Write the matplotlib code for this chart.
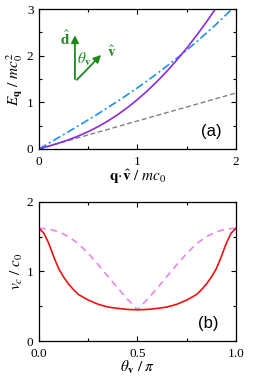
import matplotlib
matplotlib.use("Agg")
from matplotlib import pyplot as plt
from matplotlib.ticker import MultipleLocator, FormatStrFormatter

# panel (a): dispersion and velocity lines
q_disp = [0.0, 0.1, 0.2, 0.3, 0.4, 0.5, 0.6, 0.7, 0.8, 0.9, 1.0,
          1.1, 1.2, 1.3, 1.4, 1.5, 1.6, 1.7, 1.8]
E_disp = [0.0, 0.061, 0.125, 0.196, 0.278, 0.371, 0.478, 0.600, 0.737, 0.890, 1.060,
          1.247, 1.450, 1.670, 1.908, 2.163, 2.435, 2.724, 3.031]
q_blue = [0.0, 0.2, 0.4, 0.6, 0.8, 1.0, 1.2, 1.4, 1.6, 1.8, 2.0]
E_blue = [0.0, 0.246, 0.496, 0.754, 1.025, 1.311, 1.617, 1.945, 2.297, 2.676, 3.083]
q_gray = [0.0, 2.0]
E_gray = [0.0, 1.2]

# panel (b): critical velocity vs angle
theta = [0.0, 0.025, 0.05, 0.075, 0.1, 0.125, 0.15, 0.175, 0.2, 0.25, 0.3, 0.35, 0.4, 0.45, 0.5,
         0.55, 0.6, 0.65, 0.7, 0.75, 0.8, 0.825, 0.85, 0.875, 0.9, 0.925, 0.95, 0.975, 1.0]
vc_red = [1.62, 1.55, 1.40, 1.21, 1.04, 0.92, 0.82, 0.74, 0.67, 0.59, 0.53, 0.49, 0.47, 0.455, 0.45,
          0.455, 0.47, 0.49, 0.53, 0.59, 0.67, 0.74, 0.82, 0.92, 1.04, 1.21, 1.40, 1.55, 1.62]
theta_d = [0.0, 0.05, 0.1, 0.15, 0.2, 0.25, 0.3, 0.35, 0.4, 0.45, 0.5,
           0.55, 0.6, 0.65, 0.7, 0.75, 0.8, 0.85, 0.9, 0.95, 1.0]
vc_dash = [1.62, 1.61, 1.57, 1.50, 1.40, 1.26, 1.10, 0.93, 0.76, 0.60, 0.45,
           0.60, 0.76, 0.93, 1.10, 1.26, 1.40, 1.50, 1.57, 1.61, 1.62]

plt.rcParams['font.family'] = ['Liberation Serif', 'DejaVu Serif']
plt.rcParams['mathtext.fontset'] = 'stix'
plt.rcParams['font.size'] = 10

fig = plt.figure(figsize=(2.68, 3.78), dpi=100)
ax1 = fig.add_axes([0.1455, 0.606, 0.7351, 0.370])
ax2 = fig.add_axes([0.1455, 0.0975, 0.7351, 0.3685])

green = '#1a8a1a'

ax1.plot(q_gray, E_gray, color='#808080', ls=(0, (3.5, 2)), lw=1.0)
ax1.plot(q_blue, E_blue, color='#1e8fef', ls=(0, (5, 1.8, 1.2, 1.8)), lw=1.2)
ax1.plot(q_disp, E_disp, color='#8a2be2', lw=1.2)
ax1.set_xlim(0, 2)
ax1.set_ylim(0, 3)
ax1.xaxis.set_major_locator(MultipleLocator(1))
ax1.xaxis.set_minor_locator(MultipleLocator(0.5))
ax1.yaxis.set_major_locator(MultipleLocator(1))
ax1.yaxis.set_minor_locator(MultipleLocator(0.5))
ax1.set_xlabel(r'$\mathbf{q}\!\cdot\!\hat{\mathbf{v}}\ /\ mc_0$', fontsize=11, labelpad=0)
ax1.set_ylabel(r'$E_{\mathbf{q}}\ /\ mc_0^2$', fontsize=11, labelpad=1)
ax1.text(1.75, 0.37, '(a)', family='Liberation Sans', fontsize=12, ha='center', va='center')

# direction arrows
ax1.annotate('', xy=(0.365, 2.5), xytext=(0.365, 1.44),
             arrowprops=dict(arrowstyle='-|>', color=green, lw=1.3, mutation_scale=11))
ax1.annotate('', xy=(0.65, 2.06), xytext=(0.365, 1.44),
             arrowprops=dict(arrowstyle='-|>', color=green, lw=1.3, mutation_scale=11))
ax1.text(0.26, 2.36, r'$\hat{\mathbf{d}}$', color=green, fontsize=11, ha='center', va='center')
ax1.text(0.74, 2.07, r'$\hat{\mathbf{v}}$', color=green, fontsize=11, ha='center', va='center')
ax1.text(0.39, 1.92, r'$\theta_{\mathbf{v}}$', color=green, fontsize=11, ha='left', va='center')

ax2.plot(theta_d, vc_dash, color='#ee82ee', ls=(0, (4, 3)), lw=1.2)
ax2.plot(theta, vc_red, color='#ee1111', lw=1.2)
ax2.set_xlim(0, 1)
ax2.set_ylim(0, 2)
ax2.xaxis.set_major_locator(MultipleLocator(0.5))
ax2.xaxis.set_minor_locator(MultipleLocator(0.25))
ax2.yaxis.set_major_locator(MultipleLocator(1))
ax2.yaxis.set_minor_locator(MultipleLocator(0.5))
ax2.xaxis.set_major_formatter(FormatStrFormatter('%.1f'))
ax2.set_xlabel(r'$\theta_{\mathbf{v}}\ /\ \pi$', fontsize=11, labelpad=-1)
ax2.set_ylabel(r'$v_c\ /\ c_0$', fontsize=11, labelpad=1)
ax2.text(0.86, 0.25, '(b)', family='Liberation Sans', fontsize=12, ha='center', va='center')

for ax in (ax1, ax2):
    ax.tick_params(which='both', direction='in', top=True, right=True, labelsize=9.5)
    ax.tick_params(axis='x', pad=5)
    ax.tick_params(axis='y', pad=4)
    ax.tick_params(which='major', length=3.5, width=0.8)
    ax.tick_params(which='minor', length=2.5, width=0.8)
    for s in ax.spines.values():
        s.set_linewidth(0.9)

plt.savefig('out.png', dpi=100)
plt.close()
